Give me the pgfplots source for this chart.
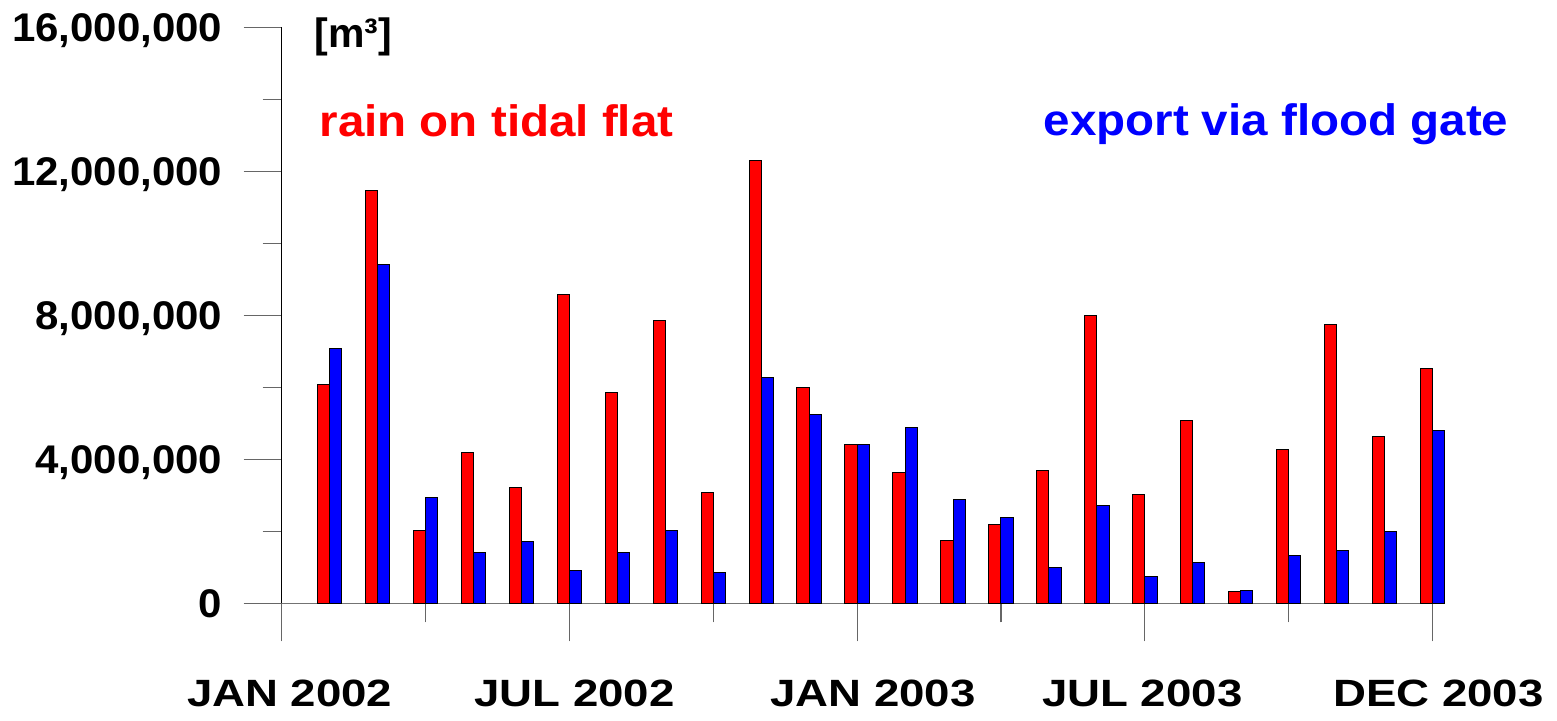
\documentclass[border=0pt]{standalone}
\usepackage{fontspec}
\setmainfont{Liberation Sans}
\newfontfamily\ylabfont{Liberation Sans}[FakeStretch=1.05]
\newfontfamily\xlabfont{Liberation Sans}[FakeStretch=1.2]
\newfontfamily\legfont{Liberation Sans}[FakeStretch=1.08]
\usepackage{pgfplots}
\pgfplotsset{compat=1.18}
\usepackage{pgfplotstable}

\pgfplotstableread{
x rain export
0 6090000 7070000
1 11460000 9400000
2 2030000 2940000
3 4200000 1420000
4 3230000 1720000
5 8570000 920000
6 5850000 1410000
7 7850000 2030000
8 3090000 860000
9 12310000 6260000
10 6000000 5250000
11 4420000 4400000
12 3640000 4880000
13 1750000 2870000
14 2200000 2370000
15 3700000 1000000
16 7990000 2730000
17 3030000 750000
18 5070000 1140000
19 330000 360000
20 4260000 1340000
21 7740000 1480000
22 4640000 2000000
23 6510000 4790000
}\data

\begin{document}
\begin{tikzpicture}
\useasboundingbox (0,0) rectangle (778.5pt,360pt);
\begin{axis}[
  at={(140.85pt,58.35pt)}, anchor=south west,
  scale only axis, width=581.4pt, height=288pt,
  xmin=-1, xmax=23.25, ymin=0, ymax=16000000,
  enlargelimits=false, clip=false,
  axis lines=left, axis line style={-},
  x axis line style={black!55, line width=0.6pt},
  y axis line style={black, line width=0.6pt},
  tick align=outside,
  every tick/.style={black!60, line width=0.6pt},
  major tick length=19pt, minor tick length=9.5pt,
  xtick={-1,5,11,17,23},
  minor xtick={2,8,14,20},
  xticklabels={\hspace*{8pt}JAN 2002,\hspace*{5pt}JUL 2002,\hspace*{16pt}JAN 2003,JUL 2003\hspace*{2.5pt},\hspace*{6pt}DEC 2003},
  xticklabel style={font=\xlabfont\bfseries\fontsize{19pt}{22pt}\selectfont, anchor=base, inner sep=0pt, yshift=-32.7pt},
  ytick={0,4000000,8000000,12000000,16000000},
  minor ytick={2000000,6000000,10000000,14000000},
  yticklabels={0,{4,000,000},{8,000,000},{12,000,000},{16,000,000}},
  scaled y ticks=false,
  yticklabel style={font=\ylabfont\bfseries\fontsize{20pt}{24pt}\selectfont, anchor=base east, inner sep=0pt, xshift=-10.5pt, yshift=-7.16pt},
  ybar, bar width=6.1pt,
]
\addplot[fill={rgb,255:red,255;green,0;blue,0}, draw=black, line width=0.5pt, bar shift=-3.05pt] table[x=x, y=rain] {\data};
\addplot[fill={rgb,255:red,0;green,0;blue,255}, draw=black, line width=0.5pt, bar shift=3.05pt] table[x=x, y=export] {\data};
\end{axis}
\node[anchor=base west, inner sep=0pt, font=\bfseries\fontsize{20.5pt}{24pt}\selectfont] at (157pt,336.2pt) {[m³]};
\node[anchor=base west, inner sep=0pt, text={rgb,255:red,255;green,0;blue,0}, font=\legfont\bfseries\fontsize{22pt}{26pt}\selectfont] at (159.6pt,291.8pt) {rain on tidal flat};
\node[anchor=base west, inner sep=0pt, text={rgb,255:red,0;green,0;blue,255}, font=\legfont\bfseries\fontsize{22pt}{26pt}\selectfont] at (521.6pt,292.5pt) {export via flood gate};
\end{tikzpicture}
\end{document}
